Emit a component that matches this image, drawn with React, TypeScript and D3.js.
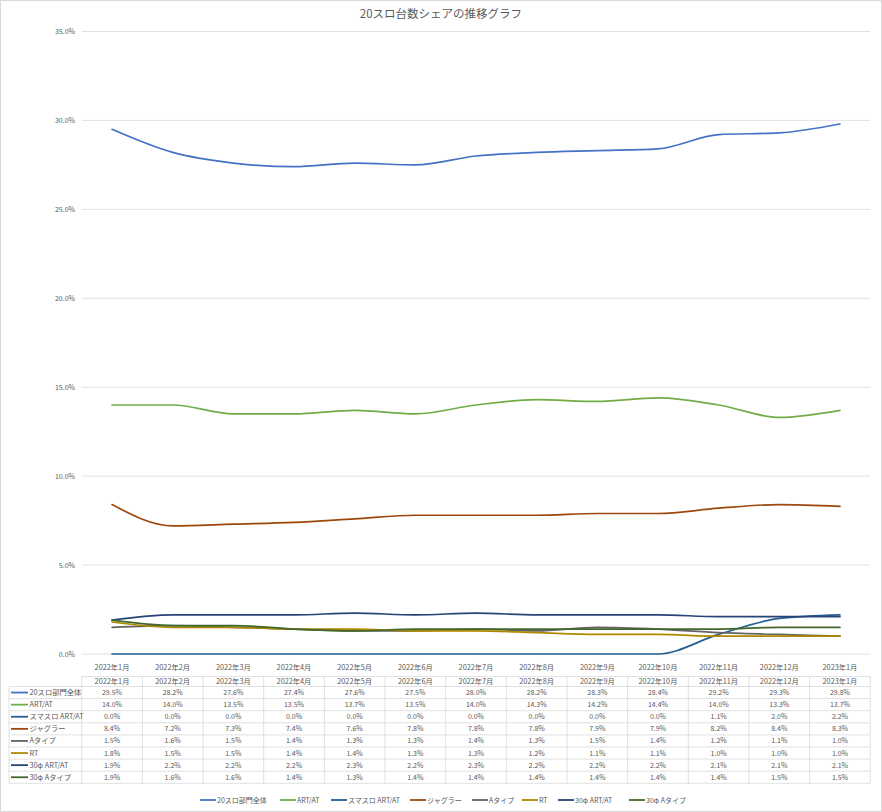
import React, { useEffect } from "react";
import * as d3 from "d3";

const months = [
  "2022年1月", "2022年2月", "2022年3月", "2022年4月", "2022年5月", "2022年6月",
  "2022年7月", "2022年8月", "2022年9月", "2022年10月", "2022年11月", "2022年12月", "2023年1月",
];

const seriesNames = [
  "20スロ部門全体", "ART/AT", "スマスロ ART/AT", "ジャグラー", "Aタイプ", "RT", "30φ ART/AT", "30φ Aタイプ",
];

const vAll = [29.5, 28.2, 27.6, 27.4, 27.6, 27.5, 28.0, 28.2, 28.3, 28.4, 29.2, 29.3, 29.8];
const vArtAt = [14.0, 14.0, 13.5, 13.5, 13.7, 13.5, 14.0, 14.3, 14.2, 14.4, 14.0, 13.3, 13.7];
const vSmaslo = [0.0, 0.0, 0.0, 0.0, 0.0, 0.0, 0.0, 0.0, 0.0, 0.0, 1.1, 2.0, 2.2];
const vJuggler = [8.4, 7.2, 7.3, 7.4, 7.6, 7.8, 7.8, 7.8, 7.9, 7.9, 8.2, 8.4, 8.3];
const vAType = [1.5, 1.6, 1.5, 1.4, 1.3, 1.3, 1.4, 1.3, 1.5, 1.4, 1.2, 1.1, 1.0];
const vRT = [1.8, 1.5, 1.5, 1.4, 1.4, 1.3, 1.3, 1.2, 1.1, 1.1, 1.0, 1.0, 1.0];
const v30ArtAt = [1.9, 2.2, 2.2, 2.2, 2.3, 2.2, 2.3, 2.2, 2.2, 2.2, 2.1, 2.1, 2.1];
const v30AType = [1.9, 1.6, 1.6, 1.4, 1.3, 1.4, 1.4, 1.4, 1.4, 1.4, 1.4, 1.5, 1.5];

const seriesValues = [vAll, vArtAt, vSmaslo, vJuggler, vAType, vRT, v30ArtAt, v30AType];
const seriesColors = ["#4472C4", "#70AD47", "#255E91", "#9E480E", "#636363", "#B08800", "#264478", "#43682B"];

const yTicks = [0, 5, 10, 15, 20, 25, 30, 35];
const title = "20スロ台数シェアの推移グラフ";

const W = 882;
const H = 812;
const FONT = "'Noto Sans CJK JP', 'Noto Sans', sans-serif";
const TEXT = "#595959";
const GRID = "#D9D9D9";
const FS = 7;

const plotLeft = 81.7;
const plotRight = 870.3;
const plotTop = 31.5;
const plotBottom = 654;

const tableLeft = 9;
const tableTop = 676.5;
const headerH = 10;
const rowH = 12.1;

const legendKeyX = [200, 280, 331, 410, 472, 522, 558, 629];
const legendY = 800;

export default function App() {
  useEffect(() => {
    document.body.style.margin = "0";
  }, []);

  const x = d3.scaleBand<string>().domain(months).range([plotLeft, plotRight]);
  const bw = x.bandwidth();
  const cx = (m: string) => (x(m) as number) + bw / 2;
  const y = d3.scaleLinear().domain([0, 35]).range([plotBottom, plotTop]);

  const line = d3
    .line<number>()
    .x((_, i) => cx(months[i]))
    .y((d) => y(d))
    .curve(d3.curveMonotoneX);

  const firstRowTop = tableTop + headerH;
  const tableBottom = firstRowTop + rowH * seriesNames.length;

  return (
    <svg width={W} height={H} style={{ display: "block", fontFamily: FONT }}>
      <rect x={0.5} y={0.5} width={W - 1} height={H - 1} fill="#fff" stroke={GRID} />
      <text x={W / 2} y={18} textAnchor="middle" fontSize={11.5} fill={TEXT}>
        {title}
      </text>

      {yTicks.map((t) => (
        <g key={t}>
          <line x1={plotLeft} x2={plotRight} y1={y(t)} y2={y(t)} stroke={GRID} strokeWidth={0.8} />
          <text x={75} y={y(t) + 2.5} textAnchor="end" fontSize={FS} fill={TEXT}>
            {t.toFixed(1) + "%"}
          </text>
        </g>
      ))}

      {months.map((m) => (
        <text key={m} x={cx(m)} y={669.5} textAnchor="middle" fontSize={FS + 0.3} fill={TEXT}>
          {m}
        </text>
      ))}

      {seriesValues.map((vals, i) => (
        <path
          key={seriesNames[i]}
          d={line(vals) as string}
          fill="none"
          stroke={seriesColors[i]}
          strokeWidth={1.7}
          strokeLinejoin="round"
          strokeLinecap="round"
        />
      ))}

      <g>
        <line x1={plotLeft} x2={plotRight} y1={tableTop} y2={tableTop} stroke={GRID} strokeWidth={0.8} />
        {d3.range(seriesNames.length + 1).map((r) => (
          <line
            key={"h" + r}
            x1={tableLeft}
            x2={plotRight}
            y1={firstRowTop + r * rowH}
            y2={firstRowTop + r * rowH}
            stroke={GRID}
            strokeWidth={0.8}
          />
        ))}
        <line x1={tableLeft} x2={tableLeft} y1={firstRowTop} y2={tableBottom} stroke={GRID} strokeWidth={0.8} />
        {months.map((m) => (
          <line
            key={"v" + m}
            x1={x(m) as number}
            x2={x(m) as number}
            y1={tableTop}
            y2={tableBottom}
            stroke={GRID}
            strokeWidth={0.8}
          />
        ))}
        <line x1={plotRight} x2={plotRight} y1={tableTop} y2={tableBottom} stroke={GRID} strokeWidth={0.8} />
        {months.map((m) => (
          <text key={"th" + m} x={cx(m)} y={tableTop + headerH / 2 + 2.5} textAnchor="middle" fontSize={FS + 0.3} fill={TEXT}>
            {m}
          </text>
        ))}
        {seriesNames.map((name, r) => {
          const ry = firstRowTop + r * rowH + rowH / 2;
          return (
            <g key={"row" + name}>
              <line x1={11} x2={28} y1={ry} y2={ry} stroke={seriesColors[r]} strokeWidth={1.8} />
              <text x={29.5} y={ry + 2.5} fontSize={FS + 0.3} fill={TEXT}>
                {name}
              </text>
              {seriesValues[r].map((v, c) => (
                <text key={c} x={cx(months[c])} y={ry + 2.5} textAnchor="middle" fontSize={FS} fill={TEXT}>
                  {v.toFixed(1) + "%"}
                </text>
              ))}
            </g>
          );
        })}
      </g>

      {seriesNames.map((name, i) => (
        <g key={"lg" + name}>
          <line
            x1={legendKeyX[i]}
            x2={legendKeyX[i] + 16}
            y1={legendY}
            y2={legendY}
            stroke={seriesColors[i]}
            strokeWidth={1.8}
          />
          <text x={legendKeyX[i] + 17} y={legendY + 2.5} fontSize={FS} fill={TEXT}>
            {name}
          </text>
        </g>
      ))}
    </svg>
  );
}
